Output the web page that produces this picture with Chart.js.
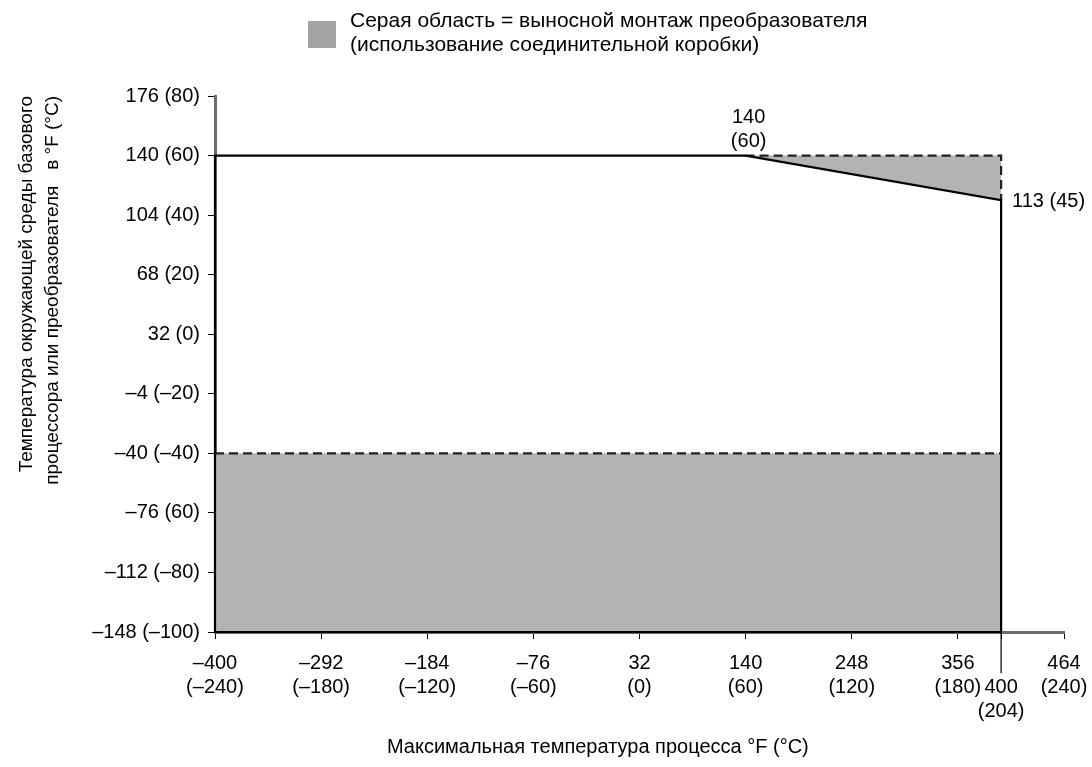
<!DOCTYPE html>
<html>
<head>
<meta charset="utf-8">
<script src="https://cdn.jsdelivr.net/npm/chart.js@4.4.1/dist/chart.umd.min.js"></script>
<style>
    html, body { margin: 0; padding: 0; background: #fff; }
    #wrap { width: 1092px; height: 767px; }
</style>
</head>
<body>
<div id="wrap"><canvas id="chart" width="1092" height="767"></canvas></div>
<script>
// Шкала X: температура процесса, °F
const xTicks = [-400, -292, -184, -76, 32, 140, 248, 356, 400, 464];
const xTickLabels = [
    ["–400", "(–240)"], ["–292", "(–180)"], ["–184", "(–120)"], ["–76", "(–60)"],
    ["32", "(0)"], ["140", "(60)"], ["248", "(120)"], ["356", "(180)"],
    ["", "400", "(204)"], ["464", "(240)"]
];

// Шкала Y: температура окружающей среды, °F
const yTicks = [-148, -112, -76, -40, -4, 32, 68, 104, 140, 176];
const yTickLabels = [
    "–148 (–100)", "–112 (–80)", "–76 (60)", "–40 (–40)", "–4 (–20)",
    "32 (0)", "68 (20)", "104 (40)", "140 (60)", "176 (80)"
];

// Рабочая область (контур)
const mainX = [400, -400, -400, 140, 400, 400];
const mainY = [-148, -148, 140, 140, 113, -148];

// Серая область снизу (ниже -40 °F)
const lowX = [-400, 400];
const lowY = [-40, -40];

// Серая область сверху (выносной монтаж)
const remoteX = [140, 400, 400];
const remoteY = [140, 140, 113];
const slopeX = [140, 400];
const slopeY = [140, 113];

// Длинная риска для 400 °F
const markX = [400, 400];
const markY = [-148, -173];

const legendLines = [
    "Серая область = выносной монтаж преобразователя",
    "(использование соединительной коробки)"
];
const xTitle = "Максимальная температура процесса °F (°C)" + "\u00A0".repeat(15);
const yTitle = [
    "Температура окружающей среды базового",
    "процессора или преобразователя \u00A0\u00A0в °F (°C)"
];

const FONT = "Arial, 'Liberation Sans', sans-serif";
const GRAY = "#b3b3b3";

function pts(xs, ys) {
    return xs.map((x, i) => ({ x: x, y: ys[i] }));
}

// Легенда и подписи точек
const notes = {
    id: "notes",
    afterDraw(chart) {
        const ctx = chart.ctx;
        const sx = chart.scales.x, sy = chart.scales.y;
        ctx.save();
        ctx.fillStyle = "#a3a3a3";
        ctx.fillRect(308, 21, 28, 27);
        ctx.fillStyle = "#000";
        ctx.font = "21px " + FONT;
        ctx.textBaseline = "middle";
        ctx.textAlign = "left";
        legendLines.forEach((t, i) => ctx.fillText(t, 350, 21 + i * 24));

        ctx.font = "20px " + FONT;
        ctx.textAlign = "center";
        const px = sx.getPixelForValue(slopeX[0]);
        const py = sy.getPixelForValue(slopeY[0]);
        ctx.fillText("140", px + 3, py - 38);
        ctx.fillText("(60)", px + 3, py - 14);
        ctx.textAlign = "left";
        ctx.fillText("113 (45)", sx.getPixelForValue(slopeX[1]) + 11, sy.getPixelForValue(slopeY[1]) + 1);
        ctx.restore();
    }
};

const ctx = document.getElementById("chart").getContext("2d");
new Chart(ctx, {
    type: "scatter",
    data: {
        datasets: [
            {
                data: pts(mainX, mainY),
                showLine: true, borderColor: "#000", borderWidth: 2.2,
                pointRadius: 0, fill: false, clip: false
            },
            {
                data: pts(remoteX, remoteY),
                showLine: true, borderColor: "#222", borderWidth: 2.2, borderDash: [9, 5],
                pointRadius: 0, fill: false
            },
            {
                data: pts(lowX, lowY),
                showLine: true, borderColor: "#222", borderWidth: 2.2, borderDash: [9, 5],
                pointRadius: 0, fill: "start", backgroundColor: GRAY
            },
            {
                data: pts(slopeX, slopeY),
                showLine: true, borderWidth: 0, borderColor: "rgba(0,0,0,0)",
                pointRadius: 0, fill: { value: 140 }, backgroundColor: GRAY
            },
            {
                data: pts(markX, markY),
                showLine: true, borderColor: "#000", borderWidth: 1.2,
                pointRadius: 0, fill: false, clip: false
            }
        ]
    },
    options: {
        responsive: false,
        animation: false,
        layout: { padding: { top: 96, right: 0, left: 0, bottom: 0 } },
        plugins: {
            legend: { display: false },
            tooltip: { enabled: false }
        },
        scales: {
            x: {
                type: "linear",
                min: -400, max: 464,
                afterBuildTicks: (s) => { s.ticks = xTicks.map((v) => ({ value: v })); },
                afterFit: (s) => { s.height = 135; s.paddingRight = 28; },
                ticks: {
                    autoSkip: false, maxRotation: 0, minRotation: 0,
                    color: "#000", padding: 12,
                    font: { family: FONT, size: 20, lineHeight: 1.2 },
                    callback: (v) => xTickLabels[xTicks.indexOf(v)]
                },
                grid: { drawOnChartArea: false, tickLength: 7, tickColor: "#000", tickWidth: 1 },
                border: { color: "#6b6b6b", width: 3 },
                title: {
                    display: true, text: xTitle, color: "#000",
                    font: { family: FONT, size: 20 }, padding: { top: 6, bottom: 8 }
                }
            },
            y: {
                type: "linear",
                min: -148, max: 176,
                afterBuildTicks: (s) => { s.ticks = yTicks.map((v) => ({ value: v })); },
                afterFit: (s) => { s.width = 215; },
                ticks: {
                    autoSkip: false, color: "#000", padding: 8,
                    font: { family: FONT, size: 20 },
                    callback: (v) => yTickLabels[yTicks.indexOf(v)]
                },
                grid: { drawOnChartArea: false, tickLength: 7, tickColor: "#000", tickWidth: 1 },
                border: { color: "#6b6b6b", width: 3 },
                title: {
                    display: true, text: yTitle, color: "#000", align: "end",
                    font: { family: FONT, size: 19, lineHeight: 1.4 }, padding: { top: 13, bottom: 0 }
                }
            }
        }
    },
    plugins: [notes]
});
</script>
</body>
</html>
